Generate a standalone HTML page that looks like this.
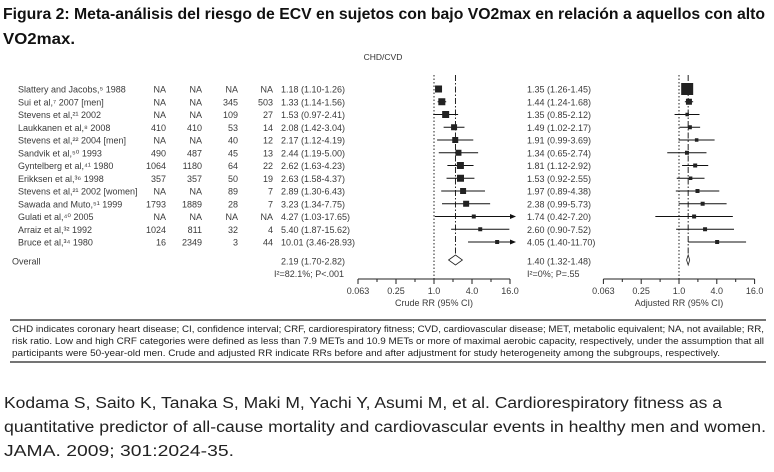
<!DOCTYPE html>
<html><head><meta charset="utf-8"><style>
html,body{margin:0;padding:0;background:#fff;}
svg{display:block;font-family:"Liberation Sans",sans-serif;}
</style></head><body>
<svg id="chart" width="774" height="472" viewBox="0 0 774 472" xmlns="http://www.w3.org/2000/svg">
<text x="3" y="19" font-size="16" font-weight="bold" fill="#111" textLength="762" lengthAdjust="spacingAndGlyphs">Figura 2: Meta-análisis del riesgo de ECV en sujetos con bajo VO2max en relación a aquellos con alto</text>
<text x="3" y="44" font-size="16" font-weight="bold" fill="#111" textLength="72" lengthAdjust="spacingAndGlyphs">VO2max.</text>
<text x="383" y="60" font-size="8.5" fill="#333" text-anchor="middle">CHD/CVD</text>
<g id="rows"></g>
<g id="plots"></g>
<line x1="10" y1="320" x2="766" y2="320" stroke="#222" stroke-width="1.3"/>
<text x="12" y="332" font-size="9.5" fill="#222" textLength="752" lengthAdjust="spacingAndGlyphs">CHD indicates coronary heart disease; CI, confidence interval; CRF, cardiorespiratory fitness; CVD, cardiovascular disease; MET, metabolic equivalent; NA, not available; RR,</text>
<text x="12" y="344" font-size="9.5" fill="#222" textLength="752" lengthAdjust="spacingAndGlyphs">risk ratio. Low and high CRF categories were defined as less than 7.9 METs and 10.9 METs or more of maximal aerobic capacity, respectively, under the assumption that all</text>
<text x="12" y="356" font-size="9.5" fill="#222" textLength="708" lengthAdjust="spacingAndGlyphs">participants were 50-year-old men. Crude and adjusted RR indicate RRs before and after adjustment for study heterogeneity among the subgroups, respectively.</text>
<line x1="10" y1="362" x2="766" y2="362" stroke="#222" stroke-width="1.3"/>
<text x="4" y="408" font-size="15.5" fill="#222" textLength="718" lengthAdjust="spacingAndGlyphs">Kodama S, Saito K, Tanaka S, Maki M, Yachi Y, Asumi M, et al. Cardiorespiratory fitness as a</text>
<text x="4" y="432" font-size="15.5" fill="#222" textLength="762" lengthAdjust="spacingAndGlyphs">quantitative predictor of all-cause mortality and cardiovascular events in healthy men and women.</text>
<text x="4" y="456" font-size="15.5" fill="#222" textLength="230" lengthAdjust="spacingAndGlyphs">JAMA. 2009; 301:2024-35.</text>
</svg>
<script>
const studies = ["Slattery and Jacobs,⁵ 1988","Sui et al,⁷ 2007 [men]","Stevens et al,²¹ 2002","Laukkanen et al,⁸ 2008","Stevens et al,²² 2004 [men]","Sandvik et al,⁵⁰ 1993","Gyntelberg et al,⁴¹ 1980","Erikksen et al,³⁶ 1998","Stevens et al,²¹ 2002 [women]","Sawada and Muto,⁵¹ 1999","Gulati et al,⁴⁰ 2005","Arraiz et al,³² 1992","Bruce et al,³⁴ 1980"];
const col1 = ["NA","NA","NA","410","NA","490","1064","357","NA","1793","NA","1024","16"];
const col2 = ["NA","NA","NA","410","NA","487","1180","357","NA","1889","NA","811","2349"];
const col3 = ["NA","345","109","53","40","45","64","50","89","28","NA","32","3"];
const col4 = ["NA","503","27","14","12","13","22","19","7","7","NA","4","44"];
const crudeRR = [1.18,1.33,1.53,2.08,2.17,2.44,2.62,2.63,2.89,3.23,4.27,5.40,10.01];
const crudeLo = [1.10,1.14,0.97,1.42,1.12,1.19,1.63,1.58,1.30,1.34,1.03,1.87,3.46];
const crudeHi = [1.26,1.56,2.41,3.04,4.19,5.00,4.23,4.37,6.43,7.75,17.65,15.62,28.93];
const crudeW = [7,7,7,6,6,6,7,7,6,6,4,4,4];
const adjRR = [1.35,1.44,1.35,1.49,1.91,1.34,1.81,1.53,1.97,2.38,1.74,2.60,4.05];
const adjLo = [1.26,1.24,0.85,1.02,0.99,0.65,1.12,0.92,0.89,0.99,0.42,0.90,1.40];
const adjHi = [1.45,1.68,2.12,2.17,3.69,2.74,2.92,2.55,4.38,5.73,7.20,7.52,11.70];
const adjW = [12,6,3.5,4,3.5,4,4,3.5,4,4,4,4,4];
const overallCrude = [2.19,1.70,2.82];
const overallAdj = [1.40,1.32,1.48];
const tickVals = [0.0625,0.25,1,4,16];
const tickLabels = ["0.063","0.25","1.0","4.0","16.0"];

const NS="http://www.w3.org/2000/svg";
const rowsG=document.getElementById('rows'), plotsG=document.getElementById('plots');
function mk(tag,attrs,parent,txt){const e=document.createElementNS(NS,tag);for(const k in attrs)e.setAttribute(k,attrs[k]);if(txt!==undefined)e.textContent=txt;parent.appendChild(e);return e;}
const rowY=i=>89+i*12.75;
const xC=v=>434+19*Math.log2(v);
const xA=v=>679+18.9*Math.log2(v);
const fmt=(r,l,h)=>r.toFixed(2)+" ("+l.toFixed(2)+"-"+h.toFixed(2)+")";
const TF={"font-size":"9","fill":"#3a3a3a"};

studies.forEach((s,i)=>{
  const y=rowY(i)+3.5;
  let t=mk('text',Object.assign({x:18,y:y},TF),rowsG,s);
  
  
  [[col1,166],[col2,202],[col3,238],[col4,273]].forEach(([c,rx])=>{
    const e=mk('text',Object.assign({x:rx,y:y,'text-anchor':'end'},TF),rowsG,c[i]);
    
    
  });
  t=mk('text',Object.assign({x:281,y:y},TF),rowsG,fmt(crudeRR[i],crudeLo[i],crudeHi[i]));
  
  
  t=mk('text',Object.assign({x:527,y:y},TF),rowsG,fmt(adjRR[i],adjLo[i],adjHi[i]));
  
  
});
let t=mk('text',Object.assign({x:12,y:264.5},TF),rowsG,"Overall");


t=mk('text',Object.assign({x:281,y:264.5},TF),rowsG,fmt(overallCrude[0],overallCrude[1],overallCrude[2]));


t=mk('text',Object.assign({x:527,y:264.5},TF),rowsG,fmt(overallAdj[0],overallAdj[1],overallAdj[2]));


t=mk('text',Object.assign({x:274,y:277},TF),rowsG,"I²=82.1%; P<.001");


t=mk('text',Object.assign({x:527,y:277},TF),rowsG,"I²=0%; P=.55");



function panel(xs,rr,lo,hi,w,ov,title,prefix){
  const g=mk('g',{},plotsG);
  
  
  let l=mk('line',{x1:xs(1),y1:75,x2:xs(1),y2:279,stroke:'#222','stroke-width':1,'stroke-dasharray':'1.5,2'},g);
  
  
  l=mk('line',{x1:xs(ov[0]),y1:75,x2:xs(ov[0]),y2:256,stroke:'#222','stroke-width':1,'stroke-dasharray':'6,2,1.5,2'},g);
  
  
  const xmax=xs(16);
  rr.forEach((v,i)=>{
    const y=rowY(i);
    const x1=xs(lo[i]);let x2=xs(hi[i]);const arrow=hi[i]>16;
    if(arrow)x2=xmax+1;
    const ln=mk('line',{x1:x1,y1:y,x2:x2,y2:y,stroke:'#111','stroke-width':1},g);
    
    
    if(arrow){
      const a=mk('polygon',{points:(x2+5)+','+y+' '+(x2-1)+','+(y-2.5)+' '+(x2-1)+','+(y+2.5),fill:'#111'},g);
      
      
    }
    const s=w[i];
    const r=mk('rect',{x:xs(v)-s/2,y:y-s/2,width:s,height:s,fill:'#222'},g);
    
    
  });
  const yd=260;
  const d=mk('polygon',{points:xs(ov[1])+','+yd+' '+xs(ov[0])+','+(yd-5)+' '+xs(ov[2])+','+yd+' '+xs(ov[0])+','+(yd+5),fill:'#fff',stroke:'#222','stroke-width':0.8},g);
  
  
  const ax=mk('line',{x1:xs(tickVals[0]),y1:279,x2:xs(tickVals[tickVals.length-1]),y2:279,stroke:'#222','stroke-width':1},g);
  
  
  tickVals.forEach((v,k)=>{
    const tk=mk('line',{x1:xs(v),y1:279,x2:xs(v),y2:284,stroke:'#222','stroke-width':1},g);
    
    
    if(k<tickVals.length-1){
      const m=mk('line',{x1:xs(v*2),y1:279,x2:xs(v*2),y2:282,stroke:'#222','stroke-width':1},g);
      
      
    }
    const tl=mk('text',Object.assign({x:xs(v),y:294,'text-anchor':'middle'},TF),g,tickLabels[k]);
    
    
  });
  const at=mk('text',Object.assign({x:xs(1),y:306,'text-anchor':'middle'},TF),g,title);
  
  
}
panel(xC,crudeRR,crudeLo,crudeHi,crudeW,overallCrude,"Crude RR (95% CI)","crude");
panel(xA,adjRR,adjLo,adjHi,adjW,overallAdj,"Adjusted RR (95% CI)","adjusted");
</script>
</body></html>
